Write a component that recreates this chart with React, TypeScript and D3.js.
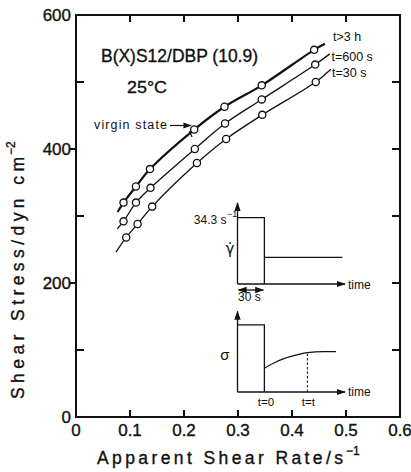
import * as d3 from 'd3';

const WIDTH = 411;
const HEIGHT = 472;
const MARGIN = { top: 15, right: 11, bottom: 55, left: 76 };
const FONT = "'Liberation Sans', Arial, sans-serif";

// axes
const xTicks = [0, 0.1, 0.2, 0.3, 0.4, 0.5, 0.6];
const xTickLabels = ['0', '0.1', '0.2', '0.3', '0.4', '0.5', '0.6'];
const yMajor = [0, 200, 400, 600];
const yMinor = [100, 300, 500];

// t > 3 h (virgin state)
const rateLong = [0.088, 0.111, 0.137, 0.219, 0.275, 0.344, 0.441];
const stressLong = [320, 344, 370, 429, 463, 495, 548];
const endsLong = [[0.077, 306], [0.461, 557]];

// t = 600 s
const rate600 = [0.088, 0.111, 0.138, 0.220, 0.276, 0.344, 0.443];
const stress600 = [292, 320, 342, 400, 438, 474, 526];
const ends600 = [[0.0765, 281], [0.470, 542]];

// t = 30 s
const rate30 = [0.093, 0.114, 0.141, 0.224, 0.278, 0.345, 0.444];
const stress30 = [268, 288, 314, 379, 415, 451, 500];
const ends30 = [[0.074, 246], [0.472, 519]];

const seriesLabels = ['t>3 h', 't=600 s', 't=30 s'];

// inset schematic (time in s)
const stepT = [0, 30, 30];
const stepRate = [34.3, 34.3, 0];
const afterT = [30, 117];
const afterRate = [13.8, 13.8];
const sigStepT = [0, 30, 30];
const sigStep = [84, 84, 0];
const recoverT = [30, 40, 51, 66, 78, 96, 110];
const recoverSig = [29.6, 35.9, 41.3, 46.3, 49.1, 50.4, 50.4];
const tObserve = 78;

export default function App() {
  const x = d3.scaleLinear().domain([0, 0.6]).range([MARGIN.left, WIDTH - MARGIN.right]);
  const y = d3.scaleLinear().domain([0, 600]).range([HEIGHT - MARGIN.bottom, MARGIN.top]);
  const x0 = x(0), x1 = x(0.6), y0 = y(0), y1 = y(600);

  const curve = d3.line<number[]>().x((d) => x(d[0])).y((d) => y(d[1])).curve(d3.curveCatmullRom.alpha(0.5));

  const series = [
    { rates: rateLong, stress: stressLong, ends: endsLong, w: 2.2 },
    { rates: rate600, stress: stress600, ends: ends600, w: 1.3 },
    { rates: rate30, stress: stress30, ends: ends30, w: 1.3 },
  ];

  // inset scales
  const ix = d3.scaleLinear().domain([0, 120]).range([237.5, 345]);
  const iRate = d3.scaleLinear().domain([0, 34.3]).range([284, 217.7]);
  const iSig = d3.scaleLinear().domain([0, 100]).range([392, 312]);
  const poly = (ts: number[], vs: number[], sy: d3.ScaleLinear<number, number>) =>
    d3.line<number>().x((_, i) => ix(ts[i])).y((v) => sy(v))(vs) || '';
  const recover = d3.line<number>().x((_, i) => ix(recoverT[i])).y((v) => iSig(v)).curve(d3.curveMonotoneX)(recoverSig) || '';

  const ink = { stroke: '#111', strokeWidth: 0.35 };

  return (
    <svg width={WIDTH} height={HEIGHT} style={{ position: 'absolute', left: 0, top: 0, background: '#fff' }}
      fontFamily={FONT} fill="#111">
      <defs>
        <marker id="ah" viewBox="0 0 10 10" refX="9" refY="5" markerWidth="7" markerHeight="7" orient="auto-start-reverse">
          <path d="M0,1.5 L10,5 L0,8.5 Z" fill="#111" />
        </marker>
      </defs>
      <rect width={WIDTH} height={HEIGHT} fill="#fff" />

      {/* frame */}
      <rect x={x0} y={y1} width={x1 - x0} height={y0 - y1} fill="none" stroke="#111" strokeWidth={2} />

      {/* y ticks */}
      {yMajor.map((v) => (
        <g key={'ym' + v}>
          {v > 0 && v < 600 && <line x1={x0 - 7} x2={x0} y1={y(v)} y2={y(v)} stroke="#111" strokeWidth={2} />}
          <text x={x0 - 5} y={y(v) + 6} textAnchor="end" fontSize={17} {...ink}>{v}</text>
        </g>
      ))}
      {yMinor.map((v) => (
        <line key={'yn' + v} x1={x0} x2={x0 + 8} y1={y(v)} y2={y(v)} stroke="#111" strokeWidth={2} />
      ))}
      {[100, 200, 300, 400, 500].map((v) => (
        <line key={'yr' + v} x1={x1 - 8} x2={x1} y1={y(v)} y2={y(v)} stroke="#111" strokeWidth={2} />
      ))}

      {/* x ticks */}
      {xTicks.map((v, i) => (
        <g key={'xt' + v}>
          {i > 0 && i < xTicks.length - 1 && (
            <>
              <line x1={x(v)} x2={x(v)} y1={y0} y2={y0 - 7} stroke="#111" strokeWidth={2} />
              <line x1={x(v)} x2={x(v)} y1={y1} y2={y1 + 7} stroke="#111" strokeWidth={2} />
            </>
          )}
          <text x={x(v)} y={436} textAnchor="middle" fontSize={17} {...ink}>{xTickLabels[i]}</text>
        </g>
      ))}

      {/* axis titles */}
      <text x={97} y={464} fontSize={17.5} textLength={246} lengthAdjust="spacing" {...ink}>Apparent Shear Rate/s</text>
      <text x={346} y={455} fontSize={12} {...ink}>−1</text>
      <g transform="translate(24,399) rotate(-90)">
        <text x={0} y={0} fontSize={17.5} textLength={242} lengthAdjust="spacing" {...ink}>Shear Stress/dyn cm</text>
        <text x={244} y={-9} fontSize={12} {...ink}>−2</text>
      </g>

      {/* annotations */}
      <text x={101} y={62} fontSize={18} textLength={157} lengthAdjust="spacingAndGlyphs" {...ink}>B(X)S12/DBP (10.9)</text>
      <text x={127} y={93} fontSize={17} textLength={40} lengthAdjust="spacingAndGlyphs" {...ink}>25°C</text>
      <text x={94} y={129} fontSize={12.5} textLength={73} lengthAdjust="spacing">virgin state</text>
      <line x1={170} x2={191} y1={125.5} y2={125.5} stroke="#111" strokeWidth={1.2} markerEnd="url(#ah)" />
      <line x1={189.5} x2={192} y1={131} y2={137} stroke="#111" strokeWidth={1.2} />

      {/* curves */}
      {series.map((s, k) => {
        const pts = [s.ends[0], ...s.rates.map((r, i) => [r, s.stress[i]]), s.ends[1]];
        return (
          <g key={'s' + k}>
            <path d={curve(pts) || ''} fill="none" stroke="#111" strokeWidth={s.w} />
            {s.rates.map((r, i) => (
              <circle key={i} cx={x(r)} cy={y(s.stress[i])} r={3.6} fill="#fff" stroke="#111" strokeWidth={1.3} />
            ))}
          </g>
        );
      })}
      <text x={333} y={41} fontSize={12.5}>{seriesLabels[0]}</text>
      <text x={331.5} y={61} fontSize={12.5}>{seriesLabels[1]}</text>
      <text x={332} y={76.5} fontSize={12.5}>{seriesLabels[2]}</text>

      {/* inset: shear rate step */}
      <g stroke="#111" strokeWidth={1.3} fill="none">
        <line x1={ix(0)} x2={ix(0)} y1={iRate(0)} y2={203} markerEnd="url(#ah)" />
        <line x1={ix(0)} x2={ix(120)} y1={iRate(0)} y2={iRate(0)} markerEnd="url(#ah)" />
        <path d={poly(stepT, stepRate, iRate)} />
        <path d={poly(afterT, afterRate, iRate)} />
        <line x1={ix(0) + 1} x2={ix(30) - 1} y1={290} y2={290} markerStart="url(#ah)" markerEnd="url(#ah)" />
      </g>
      <text x={226.5} y={224} textAnchor="end" fontSize={12}>34.3 s</text>
      <text x={227} y={217} fontSize={9}>−1</text>
      <text x={230} y={254} textAnchor="middle" fontSize={15} fontFamily="'DejaVu Sans', sans-serif">γ̇</text>
      <text x={348} y={288.5} fontSize={12}>time</text>
      <text x={238} y={301} fontSize={12}>30 s</text>

      {/* inset: stress response */}
      <g stroke="#111" strokeWidth={1.3} fill="none">
        <line x1={ix(0)} x2={ix(0)} y1={iSig(0)} y2={311.5} markerEnd="url(#ah)" />
        <line x1={ix(0)} x2={ix(120)} y1={iSig(0)} y2={iSig(0)} markerEnd="url(#ah)" />
        <path d={poly(sigStepT, sigStep, iSig)} />
        <path d={recover} />
        <line x1={ix(tObserve)} x2={ix(tObserve)} y1={iSig(0)} y2={iSig(49.1)} strokeDasharray="2.5,2" strokeWidth={1} />
      </g>
      <text x={225} y={360} textAnchor="middle" fontSize={15}>σ</text>
      <text x={348} y={396} fontSize={12}>time</text>
      <text x={ix(30) + 1.5} y={406} textAnchor="middle" fontSize={11.5}>t=0</text>
      <text x={ix(tObserve) + 1} y={406} textAnchor="middle" fontSize={11.5}>t=t</text>
    </svg>
  );
}
